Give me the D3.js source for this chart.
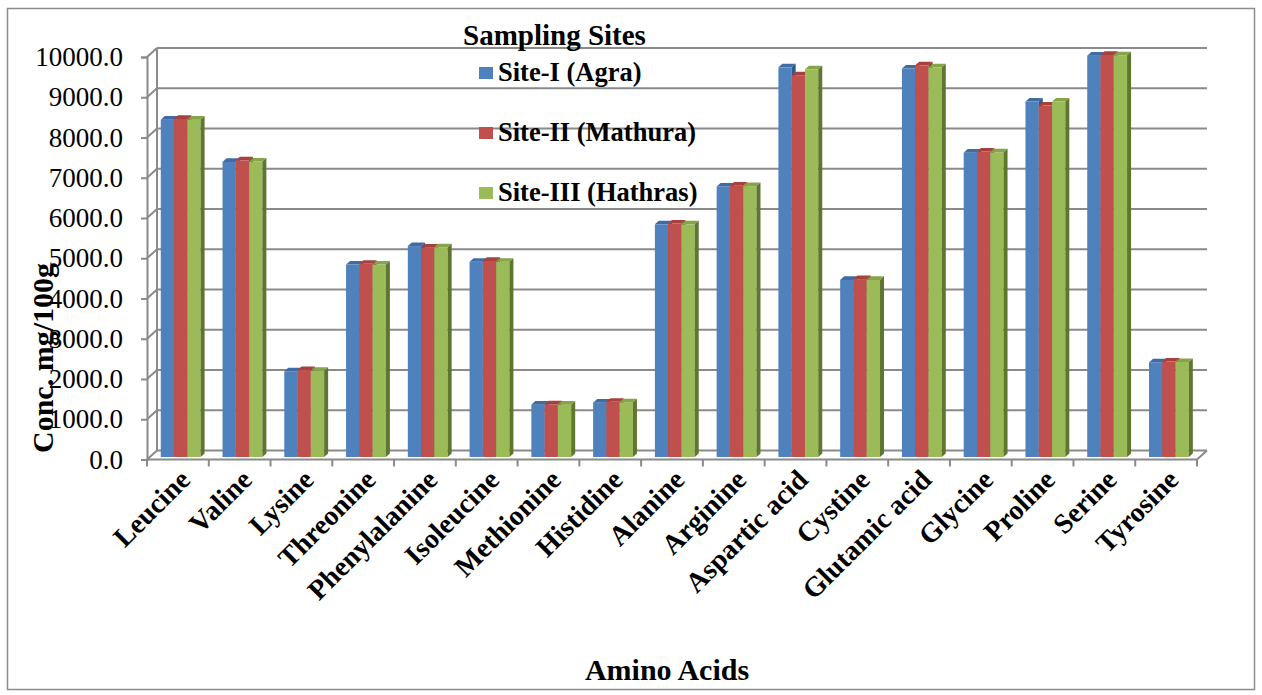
<!DOCTYPE html>
<html>
<head>
<meta charset="utf-8">
<script src="https://cdn.jsdelivr.net/npm/d3@7"></script>
<style>
  html, body { margin: 0; padding: 0; background: #fff; }
  text { font-family: "Liberation Serif", "Times New Roman", serif; fill: #000; }
</style>
</head>
<body>
<script>
// Amino acid concentrations (mg/100g) at three sampling sites
const categories = ["Leucine", "Valine", "Lysine", "Threonine", "Phenylalanine", "Isoleucine",
  "Methionine", "Histidine", "Alanine", "Arginine", "Aspartic acid", "Cystine",
  "Glutamic acid", "Glycine", "Proline", "Serine", "Tyrosine"];
const seriesNames = ["Site-I (Agra)", "Site-II (Mathura)", "Site-III (Hathras)"];
const siteAgra     = [8380, 7330, 2130, 4780, 5240, 4850, 1300, 1350, 5780, 6720, 9680, 4400, 9650, 7560, 8830, 9970, 2350];
const siteMathura  = [8400, 7370, 2160, 4800, 5200, 4870, 1310, 1370, 5800, 6740, 9480, 4420, 9730, 7590, 8730, 9990, 2370];
const siteHathras  = [8380, 7340, 2140, 4780, 5210, 4850, 1300, 1360, 5780, 6730, 9630, 4400, 9680, 7570, 8830, 9980, 2360];
const yTickValues  = [0, 1000, 2000, 3000, 4000, 5000, 6000, 7000, 8000, 9000, 10000];

const seriesValues = [siteAgra, siteMathura, siteHathras];
const frontColors = ["#4f81bd", "#c0504d", "#9bbb59"];
const topColors   = ["#3f6ca6", "#a8403d", "#86a546"];
const sideColors  = ["#34588a", "#7f302e", "#5f7630"];

const W = 1262, H = 695;
const svg = d3.select("body").append("svg").attr("width", W).attr("height", H);

// outer frame
svg.append("rect").attr("x", 7.5).attr("y", 8.5).attr("width", 1247).attr("height", 681)
  .attr("fill", "none").attr("stroke", "#8c8c8c").attr("stroke-width", 1.5);

// front plane scales; the back wall is shifted by the depth offset
const x = d3.scaleBand().domain(categories).range([147, 1197]);
const y = d3.scaleLinear().domain([0, 10000]).range([459.5, 57]);
const DX = 10, DY = -9;
const gridColor = "#8a8a8a";

const axes = svg.append("g");

// back wall gridlines
axes.selectAll("line.grid").data(yTickValues).join("line")
  .attr("x1", x.range()[0] + DX).attr("x2", x.range()[1] + DX)
  .attr("y1", d => y(d) + DY).attr("y2", d => y(d) + DY)
  .attr("stroke", gridColor).attr("stroke-width", 2);

// side wall gridlines (front axis to back wall)
axes.selectAll("line.side").data(yTickValues).join("line")
  .attr("x1", x.range()[0]).attr("x2", x.range()[0] + DX)
  .attr("y1", d => y(d)).attr("y2", d => y(d) + DY)
  .attr("stroke", gridColor).attr("stroke-width", 2);

// back-left edge
axes.append("line")
  .attr("x1", x.range()[0] + DX).attr("x2", x.range()[0] + DX)
  .attr("y1", y(10000) + DY).attr("y2", y(0) + DY)
  .attr("stroke", gridColor).attr("stroke-width", 2);

// front floor edge and right floor edge
axes.append("line")
  .attr("x1", x.range()[0]).attr("x2", x.range()[1])
  .attr("y1", y(0)).attr("y2", y(0))
  .attr("stroke", gridColor).attr("stroke-width", 2);
axes.append("line")
  .attr("x1", x.range()[1]).attr("x2", x.range()[1] + DX)
  .attr("y1", y(0)).attr("y2", y(0) + DY)
  .attr("stroke", gridColor).attr("stroke-width", 2);

// y axis (front)
const yAxis = d3.axisLeft(y).tickValues(yTickValues).tickFormat(d3.format(".1f")).tickSize(6).tickPadding(18);
const gy = svg.append("g").attr("transform", `translate(${x.range()[0]},0)`).call(yAxis);
gy.select(".domain").attr("stroke", gridColor).attr("stroke-width", 2);
gy.selectAll(".tick line").attr("stroke", gridColor).attr("stroke-width", 2);
gy.selectAll(".tick text").attr("font-size", 27).attr("font-family", "Liberation Serif").attr("fill", "#000");

// x axis ticks at category boundaries
const boundaries = categories.map(c => x(c)).concat([x.range()[1]]);
svg.selectAll("line.xtick").data(boundaries).join("line")
  .attr("x1", d => d).attr("x2", d => d)
  .attr("y1", y(0)).attr("y2", y(0) + 7)
  .attr("stroke", gridColor).attr("stroke-width", 2);

// bars: each sits a little behind the front plane with a small depth
const groupW = x.bandwidth() * 0.645;
const sub = d3.scaleBand().domain(d3.range(3)).range([(x.bandwidth() - groupW) / 2, (x.bandwidth() + groupW) / 2]);
const F = 0.28;             // fraction of depth to the bar's front face
const BD = 0.4;             // bar depth fraction
const bdx = BD * DX, bdy = BD * DY;

const bars = svg.append("g");
categories.forEach((cat, i) => {
  seriesValues.forEach((vals, s) => {
    const v = vals[i];
    const x0 = x(cat) + sub(s) + F * DX;
    const x1 = x0 + sub.bandwidth();
    const yTop = y(v) + F * DY;
    const yBase = y(0) + F * DY;
    const g = bars.append("g");
    g.append("rect").attr("x", x0).attr("y", yTop)
      .attr("width", x1 - x0).attr("height", yBase - yTop).attr("fill", frontColors[s]);
    g.append("path")
      .attr("d", `M${x0},${yTop}L${x0 + bdx},${yTop + bdy}L${x1 + bdx},${yTop + bdy}L${x1},${yTop}Z`)
      .attr("fill", topColors[s]);
    g.append("path")
      .attr("d", `M${x1},${yTop}L${x1 + bdx},${yTop + bdy}L${x1 + bdx},${yBase + bdy}L${x1},${yBase}Z`)
      .attr("fill", sideColors[s]);
  });
});

// category labels
svg.append("g").selectAll("text").data(categories).join("text")
  .attr("transform", d => `translate(${x(d) + x.bandwidth() / 2 + 14},${y(0) + 22}) rotate(-45)`)
  .attr("text-anchor", "end")
  .attr("font-size", 28).attr("font-weight", "bold")
  .text(d => d);

// axis titles
svg.append("text")
  .attr("transform", `translate(53,358) rotate(-90)`)
  .attr("text-anchor", "middle").attr("font-size", 30).attr("font-weight", "bold")
  .text("Conc. mg/100g");
svg.append("text")
  .attr("x", 667).attr("y", 680)
  .attr("text-anchor", "middle").attr("font-size", 30).attr("font-weight", "bold")
  .text("Amino Acids");

// legend
const legend = svg.append("g");
legend.append("text").attr("x", 463).attr("y", 45)
  .attr("font-size", 29).attr("font-weight", "bold").text("Sampling Sites");
const legendY = [73, 133, 193];
seriesNames.forEach((name, s) => {
  legend.append("rect").attr("x", 479).attr("y", legendY[s] - 6)
    .attr("width", 14).attr("height", 12).attr("fill", frontColors[s]);
  legend.append("text").attr("x", 498).attr("y", legendY[s] + 8)
    .attr("font-size", 26.5).attr("font-weight", "bold").text(name);
});
</script>
</body>
</html>
